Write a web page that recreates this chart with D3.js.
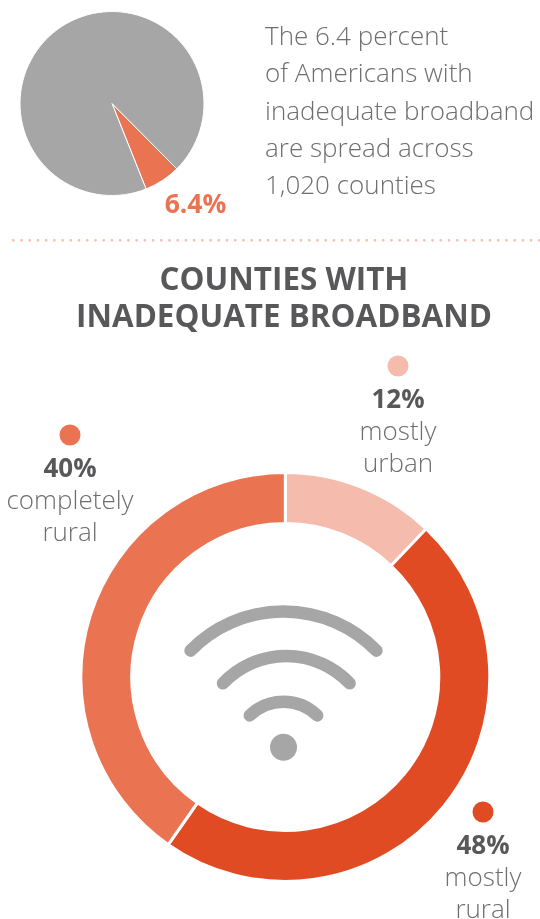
<!DOCTYPE html>
<html>
<head>
<meta charset="utf-8">
<script src="https://cdn.jsdelivr.net/npm/d3@7"></script>
<style>
  html, body { margin: 0; padding: 0; background: #fff; }
  svg { display: block; will-change: transform; }
  text { font-family: "Open Sans", sans-serif; }
</style>
</head>
<body>
<svg id="chart" width="540" height="919"></svg>
<script>
const shareLabels = ['inadequate', 'adequate'];
const shareValues = [6.4, 93.6];
const shareColors = ['#ea7352', '#a6a6a6'];

const ringCategories = ['mostly urban', 'mostly rural', 'completely rural'];
// as drawn in the picture, the labels round these to 12, 48, 40
const ringValues = [12.1, 47.6, 40.3];
const ringColors = ['#f5bbac', '#e14b23', '#ea7352'];

const introLines = ['The 6.4 percent', 'of Americans with', 'inadequate broadband', 'are spread across', '1,020 counties'];
const titleLines = ['COUNTIES WITH', 'INADEQUATE BROADBAND'];

const darkText = '#58585a';
const lightText = '#6e6e6e';

const svg = d3.select('#chart');

// top pie, rotated so the slice lands bottom right
const pie = d3.pie().sort(null).startAngle(2.36).endAngle(2.36 + 2 * Math.PI);
const pieArc = d3.arc().innerRadius(0).outerRadius(92);

svg.append('g')
  .attr('transform', 'translate(112,103.5)')
  .selectAll('path')
  .data(pie(shareValues))
  .join('path')
  .attr('d', pieArc)
  .attr('fill', (d, i) => shareColors[i])
  .attr('stroke', '#fff')
  .attr('stroke-width', 1);

svg.append('text')
  .attr('x', 195.5).attr('y', 213)
  .attr('text-anchor', 'middle')
  .attr('font-size', 26.5).attr('font-weight', 700)
  .attr('fill', shareColors[0])
  .text(shareValues[0] + '%');

svg.append('g').selectAll('text')
  .data(introLines)
  .join('text')
  .attr('x', 265)
  .attr('y', (d, i) => 45 + i * 37.3)
  .attr('font-size', 26).attr('font-weight', 300)
  .attr('fill', lightText)
  .text(d => d);

// dotted divider
svg.append('line')
  .attr('x1', 13.3).attr('x2', 540).attr('y1', 240.3).attr('y2', 240.3)
  .attr('stroke', '#f6bfae').attr('stroke-width', 2.8)
  .attr('stroke-linecap', 'round')
  .attr('stroke-dasharray', '0 8.22');

svg.append('g').selectAll('text')
  .data(titleLines)
  .join('text')
  .attr('x', 284)
  .attr('y', (d, i) => 289.5 + i * 37)
  .attr('text-anchor', 'middle')
  .attr('font-size', 31.4).attr('font-weight', 700)
  .attr('fill', darkText)
  .text(d => d);

// donut, radii allow for the white stroke eating 1.5px each side
const ring = d3.pie().sort(null);
const ringArc = d3.arc().innerRadius(153.5).outerRadius(204.5);
const cx = 285.3, cy = 677;

svg.append('g')
  .attr('transform', `translate(${cx},${cy})`)
  .selectAll('path')
  .data(ring(ringValues))
  .join('path')
  .attr('d', ringArc)
  .attr('fill', (d, i) => ringColors[i])
  .attr('stroke', '#fff')
  .attr('stroke-width', 3);

// wifi icon, each band has its own centre
const wifi = svg.append('g');
[
  { r: 48.3, a: 0.772, x: 283.5, y: 750 },
  { r: 87, a: 0.815, x: 286.3, y: 743 },
  { r: 130, a: 0.797, x: 283.5, y: 741.5 }
].forEach(w => {
  // open path so the round caps show, d3.arc would close it
  const p = d3.path();
  p.arc(0, 0, w.r, -Math.PI / 2 - w.a, -Math.PI / 2 + w.a);
  wifi.append('path')
    .attr('transform', `translate(${w.x},${w.y})`)
    .attr('d', p.toString())
    .attr('fill', 'none')
    .attr('stroke', '#a6a6a6')
    .attr('stroke-width', 12.5)
    .attr('stroke-linecap', 'round');
});
wifi.append('circle').attr('cx', 283.5).attr('cy', 747.3).attr('r', 13.5).attr('fill', '#a6a6a6');

// ring labels
const ringLabelPos = [
  { x: 398, dotY: 366, lines: ['mostly', 'urban'] },
  { x: 70, dotY: 435, lines: ['completely', 'rural'] },
  { x: 483, dotY: 812, lines: ['mostly', 'rural'] }
];
const labelOrder = [0, 2, 1];
labelOrder.forEach((idx, k) => {
  const p = ringLabelPos[k];
  const g = svg.append('g');
  g.append('circle').attr('cx', p.x).attr('cy', p.dotY).attr('r', 10.5).attr('fill', ringColors[idx]);
  g.append('text')
    .attr('x', p.x).attr('y', p.dotY + 42)
    .attr('text-anchor', 'middle')
    .attr('font-size', 26).attr('font-weight', 700)
    .attr('fill', darkText)
    .text(Math.round(ringValues[idx]) + '%');
  p.lines.forEach((l, i) => {
    g.append('text')
      .attr('x', p.x).attr('y', p.dotY + 74 + i * 31.5)
      .attr('text-anchor', 'middle')
      .attr('font-size', 26).attr('font-weight', 300)
      .attr('fill', lightText)
      .text(l);
  });
});
</script>
</body>
</html>
